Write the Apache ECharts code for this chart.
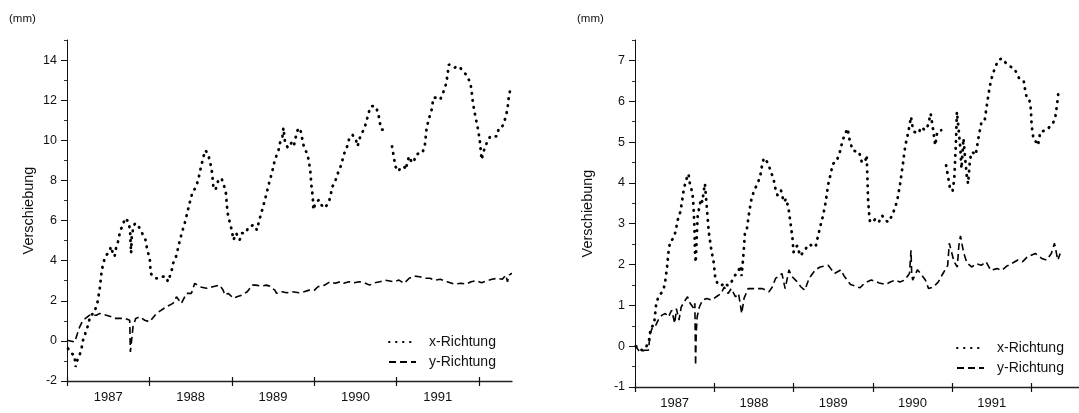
<!DOCTYPE html>
<html>
<head>
<meta charset="utf-8">
<script src="https://cdn.jsdelivr.net/npm/echarts@6/dist/echarts.min.js"></script>
<style>
html,body{margin:0;padding:0;background:#fff;}
#c{width:1079px;height:413px;}
</style>
</head>
<body>
<div id="c"></div>
<script>
// ---- data (decimal year, displacement in mm) ----
var yearTicks = [1987, 1988, 1989, 1990, 1991, 1992];
var yearLabelPos = [1987.5, 1988.5, 1989.5, 1990.5, 1991.5];
var leftMajorTicks = [-2, 0, 2, 4, 6, 8, 10, 12, 14];
var leftMinorTicks = [-1, 1, 3, 5, 7, 9, 11, 13, 15];
var rightMajorTicks = [-1, 0, 1, 2, 3, 4, 5, 6, 7];
var rightMinorTicks = [-0.5, 0.5, 1.5, 2.5, 3.5, 4.5, 5.5, 6.5, 7.5];
var seriesNames = ['x-Richtung', 'y-Richtung'];

var leftX = [[1987.013,-0.38],[1987.054,-0.63],[1987.088,-0.7],[1987.097,-1.0],[1987.105,-1.3],[1987.130,-0.9],[1987.159,-0.63],[1987.180,-0.3],[1987.192,0],[1987.222,0.37],[1987.255,0.78],[1987.284,1.28],[1987.326,1.37],[1987.368,1.87],[1987.397,2.6],[1987.418,3.37],[1987.439,3.87],[1987.473,4.28],[1987.506,4.37],[1987.535,4.7],[1987.556,4.37],[1987.577,4.2],[1987.598,4.7],[1987.619,4.95],[1987.648,5.53],[1987.673,5.7],[1987.703,6.12],[1987.744,5.95],[1987.765,5.53],[1987.770,5.03],[1987.778,4.37],[1987.786,5.2],[1987.807,5.7],[1987.828,5.87],[1987.849,5.95],[1987.870,5.7],[1987.912,5.37],[1987.953,5.03],[1987.974,4.53],[1988.004,4.12],[1988.016,3.37],[1988.046,3.2],[1988.079,3.12],[1988.121,3.12],[1988.163,3.2],[1988.204,3.2],[1988.225,2.95],[1988.267,3.45],[1988.288,3.87],[1988.330,4.28],[1988.351,4.7],[1988.393,5.37],[1988.434,5.95],[1988.468,6.53],[1988.497,7.03],[1988.526,7.45],[1988.560,7.62],[1988.593,8.03],[1988.623,8.62],[1988.652,9.12],[1988.677,9.5],[1988.706,9.37],[1988.736,8.95],[1988.761,8.37],[1988.777,7.62],[1988.802,7.53],[1988.832,7.95],[1988.874,8.12],[1988.903,7.78],[1988.928,7.37],[1988.945,6.53],[1988.957,6.2],[1988.978,5.87],[1988.999,5.53],[1989.020,5.03],[1989.053,5.37],[1989.095,5.03],[1989.124,5.37],[1989.166,5.37],[1989.208,5.7],[1989.271,5.78],[1989.304,5.53],[1989.334,6.03],[1989.363,6.45],[1989.396,6.95],[1989.417,7.28],[1989.447,7.78],[1989.480,8.28],[1989.501,8.62],[1989.522,9.03],[1989.564,9.45],[1989.585,9.87],[1989.614,10.2],[1989.626,10.62],[1989.647,9.87],[1989.681,9.62],[1989.723,9.87],[1989.752,9.7],[1989.773,10.12],[1989.806,10.62],[1989.836,10.45],[1989.857,10.03],[1989.877,9.62],[1989.911,9.37],[1989.932,9.03],[1989.953,8.45],[1989.965,7.78],[1989.982,7.2],[1989.990,6.53],[1990.015,6.87],[1990.057,7.03],[1990.086,6.78],[1990.128,6.62],[1990.170,6.87],[1990.199,7.2],[1990.212,7.62],[1990.254,7.95],[1990.295,8.45],[1990.329,8.78],[1990.358,9.28],[1990.400,9.7],[1990.421,10.03],[1990.463,10.28],[1990.505,10.03],[1990.526,9.7],[1990.559,10.2],[1990.601,10.53],[1990.630,10.87],[1990.659,11.37],[1990.693,11.7],[1990.743,11.7],[1990.776,11.37],[1990.797,10.87],[1990.818,10.53],[1990.852,10.53],[1990.9,'-'],[1990.944,9.7],[1990.965,9.2],[1990.985,8.7],[1991.019,8.45],[1991.048,8.62],[1991.090,8.7],[1991.111,8.53],[1991.132,8.95],[1991.153,9.2],[1991.186,8.87],[1991.216,9.03],[1991.236,9.28],[1991.278,9.37],[1991.312,9.37],[1991.341,9.7],[1991.362,10.53],[1991.383,10.95],[1991.425,11.53],[1991.446,12.12],[1991.487,12.12],[1991.529,12.03],[1991.571,12.45],[1991.604,12.87],[1991.634,13.78],[1991.676,13.7],[1991.705,13.62],[1991.738,13.7],[1991.772,13.62],[1991.801,13.45],[1991.843,13.28],[1991.885,12.95],[1991.905,12.62],[1991.926,11.87],[1991.947,11.37],[1991.968,10.95],[1991.989,10.53],[1992.010,9.95],[1992.031,9.03],[1992.052,9.37],[1992.073,9.7],[1992.106,9.95],[1992.136,10.2],[1992.178,10.2],[1992.219,10.2],[1992.240,10.62],[1992.282,10.7],[1992.303,10.87],[1992.324,11.2],[1992.345,11.53],[1992.357,12.03],[1992.378,12.53]];

var leftY = [[1987.0,0.03],[1987.093,-0.05],[1987.154,0.7],[1987.194,1.03],[1987.275,1.28],[1987.357,1.28],[1987.397,1.37],[1987.478,1.28],[1987.539,1.2],[1987.579,1.12],[1987.700,1.12],[1987.761,1.03],[1987.769,-0.55],[1987.801,0.7],[1987.834,1.12],[1987.882,1.2],[1987.943,1.03],[1988.004,0.95],[1988.085,1.37],[1988.206,1.7],[1988.286,1.87],[1988.328,2.2],[1988.388,1.87],[1988.449,2.37],[1988.510,2.37],[1988.550,2.87],[1988.610,2.70],[1988.692,2.62],[1988.769,2.7],[1988.853,2.78],[1988.895,2.53],[1988.915,2.28],[1988.957,2.37],[1989.020,2.12],[1989.062,2.2],[1989.124,2.28],[1989.187,2.45],[1989.250,2.78],[1989.292,2.78],[1989.355,2.73],[1989.417,2.78],[1989.459,2.73],[1989.522,2.53],[1989.543,2.37],[1989.606,2.45],[1989.668,2.4],[1989.731,2.45],[1989.815,2.4],[1989.877,2.45],[1989.940,2.53],[1990.003,2.53],[1990.045,2.7],[1990.128,2.78],[1990.191,2.95],[1990.254,2.87],[1990.317,2.95],[1990.358,2.87],[1990.421,2.95],[1990.484,2.9],[1990.547,2.95],[1990.609,2.9],[1990.672,2.78],[1990.735,2.9],[1990.798,2.95],[1990.860,3.03],[1990.965,2.95],[1991.028,3.03],[1991.090,2.87],[1991.153,3.12],[1991.216,3.23],[1991.278,3.2],[1991.341,3.12],[1991.404,3.12],[1991.467,3.03],[1991.529,3.07],[1991.613,2.95],[1991.697,2.83],[1991.780,2.87],[1991.843,2.83],[1991.905,2.95],[1991.968,3.0],[1992.031,2.9],[1992.094,3.0],[1992.157,3.07],[1992.219,3.12],[1992.282,3.07],[1992.324,3.28],[1992.345,2.95],[1992.366,3.28],[1992.398,3.37]];

var rightX = [[1987.012,0],[1987.054,-0.08],[1987.095,-0.1],[1987.137,-0.04],[1987.178,0.16],[1987.199,0.45],[1987.240,0.53],[1987.269,1.07],[1987.302,1.23],[1987.352,1.35],[1987.377,1.52],[1987.406,1.97],[1987.426,2.38],[1987.447,2.58],[1987.480,2.63],[1987.509,2.79],[1987.530,2.99],[1987.550,3.2],[1987.571,3.28],[1987.592,3.53],[1987.613,3.81],[1987.642,4.06],[1987.675,4.22],[1987.695,3.94],[1987.724,3.77],[1987.737,3.45],[1987.749,2.95],[1987.757,2.30],[1987.766,2.05],[1987.778,2.63],[1987.791,3.2],[1987.807,3.36],[1987.832,3.61],[1987.849,3.53],[1987.865,3.77],[1987.882,3.98],[1987.902,3.49],[1987.931,2.79],[1987.964,2.34],[1987.993,2.05],[1988.014,1.64],[1988.047,1.52],[1988.089,1.48],[1988.130,1.56],[1988.171,1.48],[1988.213,1.56],[1988.254,1.72],[1988.296,1.80],[1988.329,1.97],[1988.345,1.72],[1988.370,2.30],[1988.387,2.79],[1988.411,2.87],[1988.440,3.28],[1988.469,3.61],[1988.502,3.81],[1988.544,3.98],[1988.577,4.14],[1988.606,4.47],[1988.627,4.61],[1988.668,4.51],[1988.709,4.31],[1988.751,4.06],[1988.780,3.77],[1988.800,3.69],[1988.842,3.81],[1988.875,3.53],[1988.908,3.61],[1988.937,3.36],[1988.966,2.95],[1988.987,2.63],[1988.999,2.30],[1989.020,2.42],[1989.049,2.46],[1989.082,2.21],[1989.123,2.30],[1989.165,2.42],[1989.206,2.50],[1989.247,2.42],[1989.281,2.46],[1989.310,2.71],[1989.339,2.95],[1989.372,3.2],[1989.405,3.53],[1989.434,3.94],[1989.463,4.18],[1989.496,4.47],[1989.537,4.51],[1989.579,4.72],[1989.620,5.05],[1989.661,5.25],[1989.682,5.33],[1989.703,5.09],[1989.744,4.80],[1989.786,4.77],[1989.827,4.76],[1989.860,4.51],[1989.901,4.51],[1989.922,4.68],[1989.930,4.18],[1989.939,3.61],[1989.951,3.28],[1989.964,3.04],[1989.993,3.04],[1990.034,3.12],[1990.075,3.04],[1990.117,3.2],[1990.158,3.08],[1990.199,3.04],[1990.241,3.2],[1990.282,3.40],[1990.311,3.61],[1990.344,3.98],[1990.377,4.43],[1990.398,4.76],[1990.419,5.0],[1990.448,5.25],[1990.481,5.62],[1990.497,5.41],[1990.522,5.25],[1990.572,5.21],[1990.613,5.37],[1990.655,5.29],[1990.696,5.41],[1990.729,5.70],[1990.758,5.33],[1990.787,4.92],[1990.812,5.25],[1990.862,5.29],[1990.89,'-'],[1990.924,4.43],[1990.953,4.10],[1990.978,3.81],[1991.006,3.81],[1991.027,4.10],[1991.048,5.0],[1991.060,5.74],[1991.077,5.41],[1991.102,4.88],[1991.118,4.35],[1991.143,5.09],[1991.160,4.68],[1991.184,4.18],[1991.201,3.98],[1991.226,4.59],[1991.255,4.76],[1991.296,4.68],[1991.338,5.17],[1991.367,5.46],[1991.408,5.5],[1991.441,5.95],[1991.474,6.36],[1991.503,6.6],[1991.545,6.85],[1991.586,7.01],[1991.627,7.05],[1991.681,6.93],[1991.731,6.85],[1991.780,6.81],[1991.814,6.69],[1991.855,6.52],[1991.905,6.48],[1991.917,6.32],[1991.938,6.11],[1991.971,6.07],[1991.992,5.82],[1992.000,5.5],[1992.012,5.25],[1992.029,5.05],[1992.062,5.0],[1992.083,4.92],[1992.112,5.25],[1992.150,5.27],[1992.190,5.29],[1992.228,5.37],[1992.269,5.45],[1992.300,5.6],[1992.322,5.9],[1992.335,6.1],[1992.339,6.22]];

var rightY = [[1987.0,0.02],[1987.06,-0.14],[1987.121,-0.1],[1987.169,-0.1],[1987.181,0.11],[1987.193,0.31],[1987.221,0.47],[1987.261,0.51],[1987.302,0.68],[1987.341,0.76],[1987.381,0.80],[1987.422,0.72],[1987.462,0.88],[1987.502,0.56],[1987.522,0.92],[1987.555,0.64],[1987.583,0.96],[1987.622,1.09],[1987.663,1.21],[1987.695,1.05],[1987.743,0.92],[1987.755,1.05],[1987.764,-0.47],[1987.772,0.31],[1987.784,0.72],[1987.812,0.96],[1987.852,1.13],[1987.905,1.17],[1987.965,1.13],[1988.025,1.21],[1988.086,1.29],[1988.125,1.45],[1988.174,1.29],[1988.214,1.41],[1988.267,1.21],[1988.306,1.29],[1988.346,0.80],[1988.375,1.17],[1988.427,1.41],[1988.508,1.41],[1988.608,1.41],[1988.689,1.33],[1988.732,1.45],[1988.773,1.66],[1988.853,1.78],[1988.894,1.41],[1988.942,1.87],[1988.974,1.72],[1989.034,1.60],[1989.094,1.45],[1989.142,1.37],[1989.195,1.66],[1989.275,1.87],[1989.335,1.94],[1989.437,1.98],[1989.516,1.78],[1989.597,1.87],[1989.637,1.72],[1989.718,1.51],[1989.778,1.47],[1989.838,1.43],[1989.899,1.55],[1989.980,1.62],[1990.080,1.55],[1990.160,1.51],[1990.221,1.57],[1990.281,1.62],[1990.341,1.57],[1990.402,1.62],[1990.462,1.78],[1990.481,2.35],[1990.49,1.78],[1990.502,1.62],[1990.562,1.87],[1990.602,1.78],[1990.662,1.62],[1990.703,1.41],[1990.764,1.45],[1990.824,1.57],[1990.884,1.78],[1990.944,1.98],[1990.964,2.52],[1991.024,2.07],[1991.065,1.94],[1991.084,2.45],[1991.105,2.70],[1991.145,2.29],[1991.186,2.04],[1991.246,1.94],[1991.306,2.02],[1991.367,1.98],[1991.427,2.07],[1991.487,1.86],[1991.567,1.90],[1991.627,1.86],[1991.688,1.96],[1991.748,2.02],[1991.829,2.11],[1991.889,2.07],[1991.949,2.19],[1992.049,2.27],[1992.130,2.15],[1992.191,2.11],[1992.251,2.27],[1992.291,2.52],[1992.332,2.11],[1992.363,2.27]];

// ---- chart ----
var FONT = "'Liberation Sans', Arial, sans-serif";
var chart = echarts.init(document.getElementById('c'), null, {renderer: 'canvas'});

function xAxes(grid, max) {
  return [{
    gridIndex: grid, type: 'value', min: 1987, max: max, position: 'bottom',
    axisLine: {onZero: false, lineStyle: {color: '#222', width: 1.3}},
    axisTick: {customValues: yearTicks, length: 5, lineStyle: {color: '#111', width: 1.2}},
    axisLabel: {customValues: yearLabelPos, margin: 10, fontSize: 13, color: '#111', fontFamily: FONT,
      formatter: function (v) { return String(Math.floor(v)); }},
    splitLine: {show: false}
  }, {
    gridIndex: grid, type: 'value', min: 1987, max: max, position: 'bottom',
    axisLine: {show: false, onZero: false},
    axisTick: {customValues: yearTicks, inside: true, length: 4, lineStyle: {color: '#111', width: 1.2}},
    axisLabel: {show: false}, splitLine: {show: false}
  }];
}
function yAxes(grid, min, max, major, minor, gap) {
  return [{
    gridIndex: grid, type: 'value', min: min, max: max, position: 'left',
    name: 'Verschiebung', nameLocation: 'middle', nameGap: gap,
    nameTextStyle: {fontSize: 14.5, color: '#111', fontFamily: FONT},
    axisLine: {show: true, onZero: false, lineStyle: {color: '#111', width: 1}},
    axisTick: {show: true, customValues: major, length: 6, lineStyle: {color: '#111', width: 1}},
    axisLabel: {customValues: major, margin: 10, fontSize: 12.5, color: '#111', fontFamily: FONT},
    splitLine: {show: false}
  }, {
    gridIndex: grid, type: 'value', min: min, max: max, position: 'left', offset: 0,
    axisLine: {show: false, onZero: false},
    axisTick: {show: true, customValues: minor, length: 3, lineStyle: {color: '#333', width: 1}},
    axisLabel: {show: false}, splitLine: {show: false}
  }];
}

var dotStyle = {color: '#000', width: 2.8, type: [0.5, 6.5], cap: 'round'};
var dashStyle = {color: '#000', width: 1.6, type: [7, 4]};

function mk(name, data, xi, yi, style) {
  return {name: name, type: 'line', data: data, xAxisIndex: xi, yAxisIndex: yi,
    symbol: 'none', showSymbol: false, connectNulls: false, silent: true,
    lineStyle: style, itemStyle: {color: '#000'}, animation: false};
}

var legendBase = {orient: 'vertical', itemWidth: 27, itemHeight: 14, itemGap: 6, padding: 0,
  selectedMode: false,
  itemStyle: {opacity: 0},
  textStyle: {fontSize: 14, color: '#111', fontFamily: FONT, padding: [0, 0, 0, 8]},
  data: seriesNames};

chart.setOption({
  backgroundColor: '#fff',
  animation: false,
  textStyle: {fontFamily: FONT},
  grid: [
    {left: 67, top: 40, width: 445, height: 341, containLabel: false},
    {left: 635, top: 40, width: 464, height: 347, containLabel: false}
  ],
  xAxis: xAxes(0, 1992.40).concat(xAxes(1, 1992.6)),
  yAxis: yAxes(0, -2, 15, leftMajorTicks, leftMinorTicks, 31).concat(yAxes(1, -1, 7.5, rightMajorTicks, rightMinorTicks, 40)),
  legend: [
    Object.assign({}, legendBase, {left: 388, top: 335}),
    Object.assign({}, legendBase, {left: 956, top: 341})
  ],
  graphic: [
    {type: 'text', left: 9, top: 13, style: {text: '(mm)', fontSize: 11.5, fill: '#111', fontFamily: FONT}},
    {type: 'text', left: 577, top: 13, style: {text: '(mm)', fontSize: 11.5, fill: '#111', fontFamily: FONT}}
  ],
  series: [
    mk(seriesNames[0], leftX, 0, 0, dotStyle),
    mk(seriesNames[1], leftY, 0, 0, dashStyle),
    mk(seriesNames[0], rightX, 2, 2, dotStyle),
    mk(seriesNames[1], rightY, 2, 2, dashStyle)
  ]
});
</script>
</body>
</html>
